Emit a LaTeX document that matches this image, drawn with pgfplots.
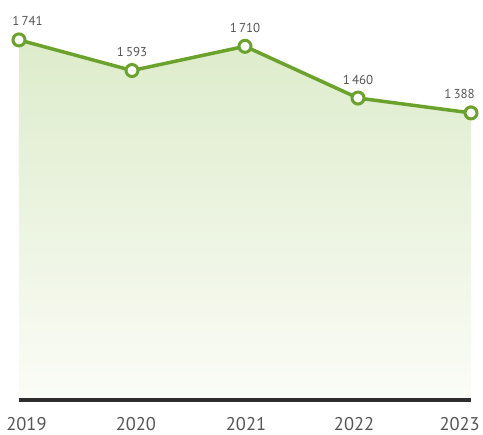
\documentclass[border=0pt]{standalone}
\usepackage{fontspec}
\setmainfont{PT Sans}
\usepackage{pgfplots}
\pgfplotsset{compat=1.18}
\definecolor{lineGreen}{HTML}{6BA22B}
\definecolor{fillTop}{HTML}{DDECCB}
\definecolor{fillBot}{HTML}{FBFCF7}
\definecolor{labGray}{HTML}{555555}
\definecolor{baseDark}{HTML}{2E2E2E}
\begin{document}
\begin{tikzpicture}
\begin{axis}[
    scale only axis, width=452bp, height=400bp,
    xmin=2019, xmax=2023, ymin=0, ymax=1934,
    axis x line*=bottom, axis y line=none,
    x axis line style={line width=3.8bp, color=baseDark, -},
    axis on top, clip=false,
    major tick length=0pt,
    xtick={2019.066,2020.035,2021.009,2021.965,2022.90},
    xticklabels={2019,2020,2021,2022,2023},
    xticklabel style={anchor=base, yshift=-30bp, font=\fontsize{18.5}{18.5}\selectfont, text=labGray, inner sep=0pt},
    ytick=\empty,
]
\addplot[draw=none, top color=fillTop, bottom color=fillBot] coordinates {
  (2019,1741) (2020,1593) (2021,1710) (2022,1460) (2023,1388)
} \closedcycle;
\addplot[color=lineGreen, line width=3.5bp, mark=*, mark size=6bp,
  mark options={fill=white, draw=lineGreen, line width=3bp}] coordinates {
  (2019,1741) (2020,1593) (2021,1710) (2022,1460) (2023,1388)
};
\begin{scope}[every node/.style={anchor=base, font=\fontsize{13}{13}\selectfont, text=labGray, inner sep=0pt}]
\node[xshift=8.5bp, yshift=14bp] at (axis cs:2019,1741) {1\,741};
\node[yshift=14bp] at (axis cs:2020,1593) {1\,593};
\node[yshift=14bp] at (axis cs:2021,1710) {1\,710};
\node[yshift=14bp] at (axis cs:2022,1460) {1\,460};
\node[xshift=-11.5bp, yshift=14bp] at (axis cs:2023,1388) {1\,388};
\end{scope}
\end{axis}
\pgfresetboundingbox
\path[use as bounding box] ([xshift=-19bp,yshift=-35bp]current axis.south west) rectangle ([xshift=12bp]current axis.north east);
\end{tikzpicture}
\end{document}
